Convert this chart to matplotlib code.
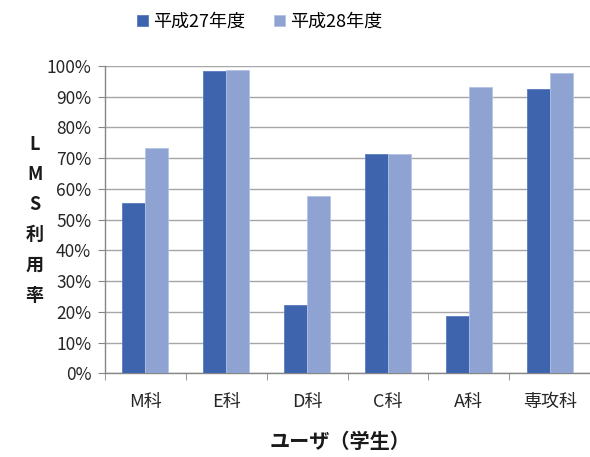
import matplotlib.pyplot as plt
import numpy as np
from matplotlib.ticker import PercentFormatter

plt.rcParams['font.family'] = ['Noto Sans CJK JP', 'DejaVu Sans']

# 学科ごとのLMS利用率
categories = ['M科', 'E科', 'D科', 'C科', 'A科', '専攻科']
h27 = [55.5, 98.2, 22.3, 71.2, 18.8, 92.4]
h28 = [73.3, 98.6, 57.7, 71.2, 93.0, 97.8]
series_names = ['平成27年度', '平成28年度']

fig = plt.figure(figsize=(5.9, 4.57), dpi=100)
ax = fig.add_axes([0.178, 0.183, 0.822, 0.673])

x = np.arange(len(categories))
w = 0.285
ax.bar(x - w / 2, h27, w, color='#3D64AD', edgecolor='#5A7CBE', linewidth=0.6,
       label=series_names[0], zorder=3)
ax.bar(x + w / 2, h28, w, color='#8FA3D3', edgecolor='#B4C3E6', linewidth=0.6,
       label=series_names[1], zorder=3)

ax.set_xlim(-0.5, len(categories) - 0.5)
ax.set_ylim(0, 100)
ax.set_yticks(np.arange(0, 101, 10))
ax.yaxis.set_major_formatter(PercentFormatter(decimals=0))
ax.grid(axis='y', color='#A6A6A6', linewidth=1.0, zorder=0)

ax.set_xticks(x)
ax.set_xticklabels(categories)
ax.set_xticks(np.arange(-0.5, len(categories), 1), minor=True)
ax.tick_params(axis='x', which='major', length=0, pad=14, labelsize=13, colors='#262626')
ax.tick_params(axis='x', which='minor', length=5, direction='out', color='#868686')
ax.tick_params(axis='y', length=5, direction='out', color='#868686', labelsize=12.5,
               colors='#262626', pad=5)

for side in ['top', 'right']:
    ax.spines[side].set_visible(False)
for side in ['left', 'bottom']:
    ax.spines[side].set_color('#868686')
    ax.spines[side].set_linewidth(1.0)

fig.text(0.059, 0.519, 'L\nM\nS\n利\n用\n率', ha='center', va='center',
         fontsize=13, fontweight='bold', linespacing=1.75, color='#1a1a1a')
fig.text(0.577, 0.035, 'ユーザ（学生）', ha='center', va='center',
         fontsize=14.5, fontweight='bold', color='#1a1a1a')

fig.legend(loc='center', bbox_to_anchor=(0.44, 0.952), ncol=2, frameon=False,
           fontsize=13, handlelength=0.6, handleheight=0.6, handletextpad=0.3,
           columnspacing=1.6)

fig.savefig('out.png', dpi=100)
